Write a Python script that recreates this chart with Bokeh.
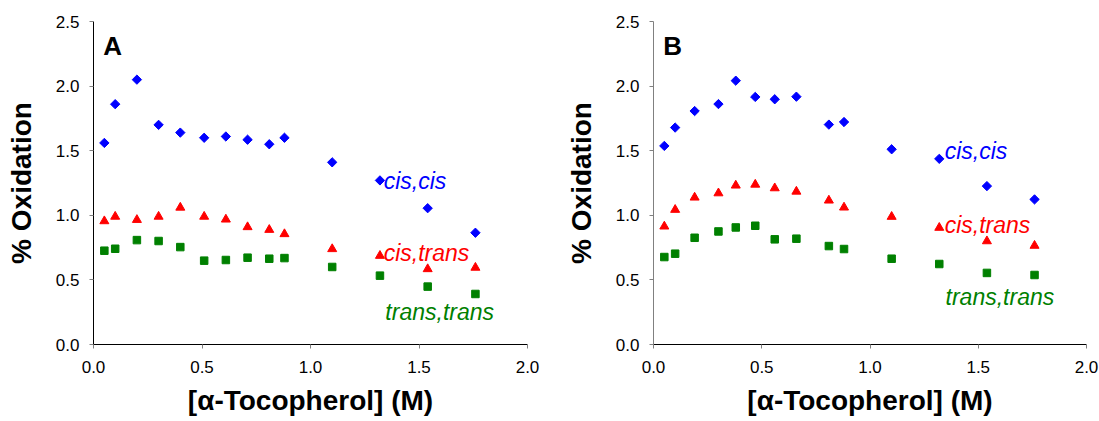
import numpy as np
from bokeh.plotting import figure
from bokeh.layouts import row
from bokeh.models import FixedTicker, PrintfTickFormatter, Label
from bokeh.embed import file_html
from bokeh.resources import INLINE

# ---- data ----
x_A = [0.05, 0.10, 0.20, 0.30, 0.40, 0.51, 0.61, 0.71, 0.81, 0.88, 1.10, 1.32, 1.54, 1.76]
cc_A = [1.56, 1.86, 2.05, 1.70, 1.64, 1.60, 1.61, 1.585, 1.55, 1.60, 1.41, 1.27, 1.055, 0.865]
ct_A = [0.955, 0.99, 0.965, 0.99, 1.06, 0.99, 0.968, 0.909, 0.888, 0.855, 0.739, 0.687, 0.584, 0.595]
tt_A = [0.726, 0.741, 0.808, 0.801, 0.754, 0.649, 0.654, 0.672, 0.664, 0.669, 0.600, 0.533, 0.448, 0.391]

x_B = [0.05, 0.10, 0.19, 0.30, 0.38, 0.47, 0.56, 0.66, 0.81, 0.88, 1.10, 1.32, 1.54, 1.76]
cc_B = [1.537, 1.679, 1.807, 1.861, 2.042, 1.916, 1.898, 1.918, 1.702, 1.722, 1.511, 1.437, 1.226, 1.123]
ct_B = [0.914, 1.043, 1.138, 1.171, 1.231, 1.238, 1.21, 1.184, 1.115, 1.061, 0.989, 0.904, 0.80, 0.765]
tt_B = [0.677, 0.703, 0.826, 0.875, 0.906, 0.919, 0.814, 0.819, 0.762, 0.739, 0.664, 0.623, 0.554, 0.538]

x_ticks = [0.0, 0.5, 1.0, 1.5, 2.0]
y_ticks = [0.0, 0.5, 1.0, 1.5, 2.0, 2.5]
series_names = ["cis,cis", "cis,trans", "trans,trans"]
panel_names = ["A", "B"]

BLUE = "#0000FF"
RED = "#FF0000"
GREEN = "#008000"
FONT = "Liberation Sans"


def make_panel(name, xs, cc, ct, tt, width, left, right, yaxis_color, label_pos):
    p = figure(width=width, height=421, x_range=(0, 2.0), y_range=(0, 2.5),
               output_backend="svg", toolbar_location=None,
               min_border_left=left, min_border_right=right,
               min_border_top=21, min_border_bottom=77)
    p.outline_line_color = None
    p.grid.visible = False
    p.background_fill_color = "white"
    p.border_fill_color = "white"

    p.scatter(xs, cc, marker="square", angle=np.pi / 4, size=6.6,
              fill_color=BLUE, line_color=BLUE)
    p.scatter(xs, ct, marker="triangle", size=9,
              fill_color=RED, line_color=RED)
    p.scatter(xs, tt, marker="square", size=7.5,
              fill_color=GREEN, line_color=GREEN)

    for ax in (p.xaxis[0], p.yaxis[0]):
        ax.major_label_text_font = FONT
        ax.major_label_text_font_size = "17px"
        ax.major_label_text_color = "black"
        ax.axis_label_text_font = FONT
        ax.axis_label_text_font_size = "28px"
        ax.axis_label_text_font_style = "bold"
        ax.axis_label_text_color = "black"
        ax.minor_tick_line_color = None
        ax.major_tick_in = 0
        ax.major_tick_out = 4
        ax.major_tick_line_color = "#808080"
        ax.formatter = PrintfTickFormatter(format="%.1f")

    p.xaxis.ticker = FixedTicker(ticks=x_ticks)
    p.yaxis.ticker = FixedTicker(ticks=y_ticks)
    p.xaxis.axis_label = "[\u03b1-Tocopherol] (M)"
    p.yaxis.axis_label = "% Oxidation"
    p.xaxis.axis_line_color = "black"
    p.yaxis.axis_line_color = yaxis_color
    p.xaxis.major_label_standoff = 12
    p.xaxis.axis_label_standoff = 9
    p.yaxis.major_label_standoff = 10
    p.yaxis.axis_label_standoff = 16

    p.add_layout(Label(x=0.045, y=2.308, text=name, text_font=FONT,
                       text_font_size="26px", text_font_style="bold",
                       text_color="black", text_baseline="alphabetic"))
    colors = [BLUE, RED, GREEN]
    for (lx, ly), txt, col in zip(label_pos, series_names, colors):
        p.add_layout(Label(x=lx, y=ly, text=txt, text_font=FONT,
                           text_font_size="23px", text_font_style="italic",
                           text_color=col, text_baseline="alphabetic"))
    return p


pA = make_panel(panel_names[0], x_A, cc_A, ct_A, tt_A, 560, 93, 33, "black",
                [(1.337, 1.262), (1.337, 0.711), (1.345, 0.252)])
pB = make_panel(panel_names[1], x_B, cc_B, ct_B, tt_B, 539, 93, 13, "#808080",
                [(1.345, 1.494), (1.345, 0.927), (1.349, 0.368)])

layout = row(pA, pB)
open("out.html", "w").write(file_html(layout, INLINE))
